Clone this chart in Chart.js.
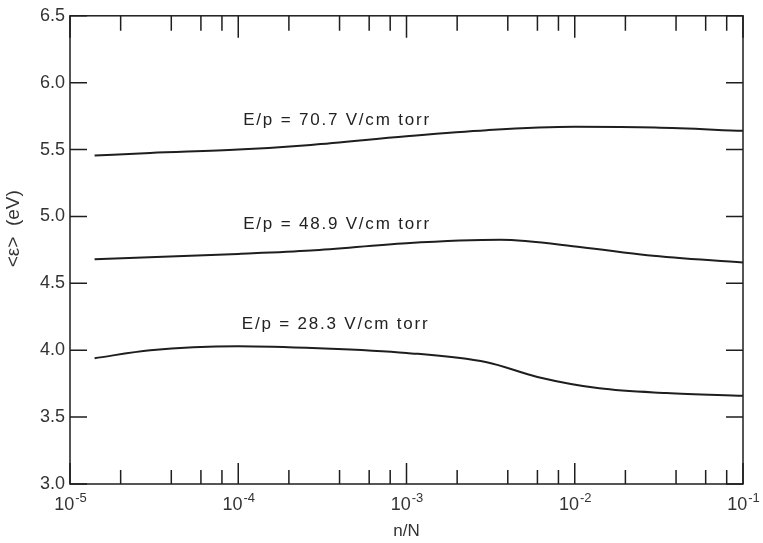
<!DOCTYPE html>
<html>
<head>
<meta charset="utf-8">
<script src="https://cdn.jsdelivr.net/npm/chart.js@4.4.1/dist/chart.umd.min.js"></script>
<style>
    html, body { margin: 0; padding: 0; background: #fff; }
    #wrap { width: 763px; height: 543px; }
</style>
</head>
<body>
<div id="wrap"><canvas id="myChart"></canvas></div>
<script>
// values
const nN_707 = [1.4e-5, 3e-5, 1e-4, 2.7e-4, 1e-3, 3e-3, 1e-2, 3e-2, 1e-1];
const eps_707 = [5.455, 5.475, 5.50, 5.535, 5.60, 5.645, 5.67, 5.665, 5.64];

const nN_489 = [1.4e-5, 1e-4, 2.7e-4, 1e-3, 3.6e-3, 1.1e-2, 2.7e-2, 1e-1];
const eps_489 = [4.68, 4.72, 4.745, 4.80, 4.825, 4.77, 4.71, 4.655];

const nN_283 = [1.4e-5, 3e-5, 1e-4, 3e-4, 1e-3, 3e-3, 6e-3, 1.4e-2, 3.5e-2, 1e-1];
const eps_283 = [3.94, 4.00, 4.03, 4.015, 3.98, 3.91, 3.80, 3.715, 3.68, 3.66];

const curveLabels = ['E/p = 70.7 V/cm torr', 'E/p = 48.9 V/cm torr', 'E/p = 28.3 V/cm torr'];
const yTicks = [3.0, 3.5, 4.0, 4.5, 5.0, 5.5, 6.0, 6.5];
const xDecades = [1e-5, 1e-4, 1e-3, 1e-2, 1e-1];
const xExponents = ['-5', '-4', '-3', '-2', '-1'];

const FONT = '"Liberation Sans", Arial, sans-serif';
const INK = '#1e1e1e';

function pts(xs, ys) {
    return xs.map((v, i) => ({ x: v, y: ys[i] }));
}

// ticks pointing inward on all four sides + frame
const frameTicks = {
    id: 'frameTicks',
    afterDraw(chart) {
        const { ctx, chartArea: a, scales: { x, y } } = chart;
        ctx.save();
        ctx.strokeStyle = INK;
        ctx.lineWidth = 1.5;
        ctx.strokeRect(a.left, a.top, a.right - a.left, a.bottom - a.top);
        ctx.beginPath();
        xDecades.forEach((d, i) => {
            const px = x.getPixelForValue(d);
            ctx.moveTo(px, a.bottom); ctx.lineTo(px, a.bottom - 21);
            ctx.moveTo(px, a.top); ctx.lineTo(px, a.top + 22);
            if (i < xDecades.length - 1) {
                [2, 4, 6, 8].forEach(m => {
                    const mx = x.getPixelForValue(d * m);
                    ctx.moveTo(mx, a.bottom); ctx.lineTo(mx, a.bottom - 14);
                    ctx.moveTo(mx, a.top); ctx.lineTo(mx, a.top + 15);
                });
            }
        });
        yTicks.forEach(v => {
            const py = y.getPixelForValue(v);
            ctx.moveTo(a.left, py); ctx.lineTo(a.left + 17, py);
            ctx.moveTo(a.right, py); ctx.lineTo(a.right - 17, py);
        });
        ctx.stroke();

        // x tick labels with superscript exponents
        ctx.fillStyle = '#333';
        ctx.textBaseline = 'alphabetic';
        xDecades.forEach((d, i) => {
            const px = x.getPixelForValue(d);
            ctx.font = '18px ' + FONT;
            const wb = ctx.measureText('10').width;
            ctx.font = '13px ' + FONT;
            const we = ctx.measureText(xExponents[i]).width;
            const left = px - (wb + we) / 2;
            ctx.font = '18px ' + FONT;
            ctx.fillText('10', left, a.bottom + 26);
            ctx.font = '13px ' + FONT;
            ctx.fillText(xExponents[i], left + wb + 1, a.bottom + 18);
        });
        ctx.restore();
    }
};

// text labels above each curve
const curveText = {
    id: 'curveText',
    afterDatasetsDraw(chart) {
        const { ctx, scales: { x, y } } = chart;
        const anchors = [[1.07e-4, 5.72], [1.07e-4, 4.94], [1.05e-4, 4.19]];
        ctx.save();
        ctx.fillStyle = '#222';
        ctx.font = '17px ' + FONT;
        ctx.letterSpacing = '1.8px';
        ctx.textBaseline = 'middle';
        curveLabels.forEach((t, i) => {
            ctx.fillText(t, x.getPixelForValue(anchors[i][0]), y.getPixelForValue(anchors[i][1]));
        });
        ctx.restore();
    }
};

const lineStyle = {
    borderColor: INK,
    borderWidth: 2,
    pointRadius: 0,
    fill: false,
    cubicInterpolationMode: 'monotone'
};

const ctx = document.getElementById('myChart').getContext('2d');
const myChart = new Chart(ctx, {
    type: 'line',
    data: {
        datasets: [
            { label: curveLabels[0], data: pts(nN_707, eps_707), ...lineStyle },
            { label: curveLabels[1], data: pts(nN_489, eps_489), ...lineStyle },
            { label: curveLabels[2], data: pts(nN_283, eps_283), ...lineStyle }
        ]
    },
    options: {
        responsive: true,
        maintainAspectRatio: false,
        animation: false,
        layout: {
            padding: { top: 14, right: 20, left: 0, bottom: 0 }
        },
        scales: {
            x: {
                type: 'logarithmic',
                min: 1e-5,
                max: 1e-1,
                grid: { display: false },
                border: { display: false },
                ticks: { display: false },
                afterFit: (scale) => { scale.height = 59; },
                title: {
                    display: true,
                    text: 'n/N',
                    color: '#333',
                    font: { family: FONT, size: 17 },
                    padding: { top: 0, bottom: 1 }
                }
            },
            y: {
                min: 3,
                max: 6.5,
                grid: { display: false, drawTicks: false },
                border: { display: false },
                afterBuildTicks: (scale) => { scale.ticks = yTicks.map(v => ({ value: v })); },
                afterFit: (scale) => { scale.width = 70; },
                ticks: {
                    padding: 5,
                    color: '#333',
                    font: { family: FONT, size: 18 },
                    callback: (v) => Number(v).toFixed(1)
                },
                title: {
                    display: true,
                    text: '\u2007\u2007\u2007\u2007<\u03B5>  (eV)',
                    color: '#333',
                    font: { family: FONT, size: 19 },
                    padding: { top: 2, bottom: 0 }
                }
            }
        },
        plugins: {
            legend: { display: false },
            tooltip: { enabled: false }
        }
    },
    plugins: [frameTicks, curveText]
});
</script>
</body>
</html>
